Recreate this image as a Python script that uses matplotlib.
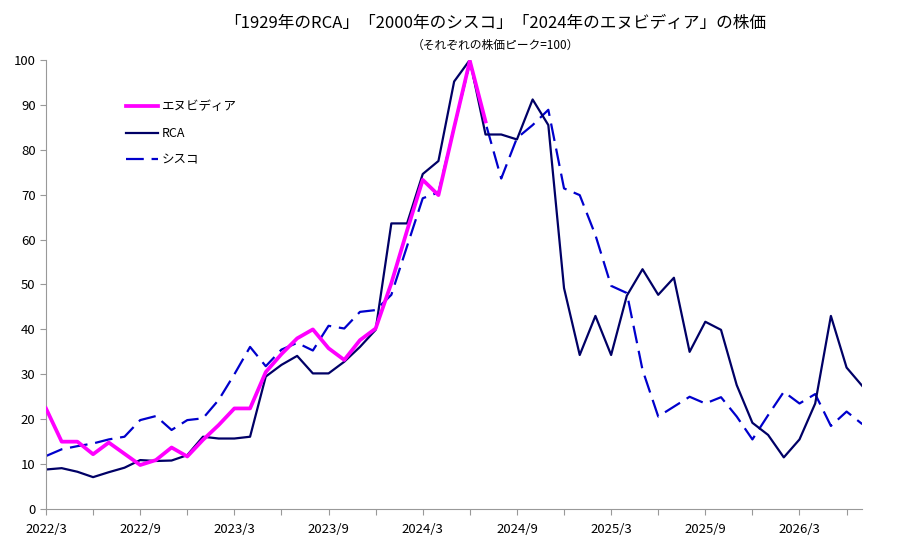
import matplotlib.pyplot as plt

plt.rcParams['font.family'] = ['Noto Sans CJK JP', 'DejaVu Sans']

# ── DATA (月次, 2022/3 起点, 各社の株価ピーク=100) ─────────────────
nvidia = [22.4, 15.0, 15.0, 12.2, 14.8, 12.3, 9.8, 10.9, 13.7, 11.7,
          15.4, 18.7, 22.4, 22.4, 30.5, 34.5, 38.0, 40.0, 35.8, 33.2,
          37.6, 40.2, 50.3, 62.0, 73.3, 69.9, 85.0, 99.8, 86.3]
rca = [8.8, 9.1, 8.3, 7.1, 8.2, 9.2, 10.9, 10.7, 10.8, 12.0,
       16.1, 15.7, 15.7, 16.1, 29.5, 32.1, 34.1, 30.2, 30.2, 32.8,
       36.1, 39.9, 63.6, 63.6, 74.6, 77.5, 95.2, 100.0, 83.4, 83.4,
       82.3, 91.2, 85.5, 49.2, 34.3, 43.0, 34.3, 47.5, 53.4, 47.7,
       51.5, 35.0, 41.7, 39.9, 27.6, 19.2, 16.5, 11.5, 15.5, 23.5,
       43.0, 31.5, 27.4]
cisco = [11.8, 13.3, 14.0, 14.6, 15.5, 16.1, 19.8, 20.7, 17.6, 19.8,
         20.2, 24.3, 30.0, 36.1, 31.8, 35.5, 37.0, 35.3, 40.8, 40.2,
         43.9, 44.3, 47.7, 58.5, 69.2, 70.5, 85.0, 99.3, 86.0, 73.6,
         82.6, 85.5, 88.9, 71.4, 69.9, 61.0, 49.7, 48.1, 31.0, 20.6,
         22.8, 25.0, 23.5, 24.9, 20.6, 15.5, 20.9, 26.1, 23.5, 25.6,
         18.5, 21.7, 18.9]
tick_labels = ['2022/3', '2022/9', '2023/3', '2023/9', '2024/3',
               '2024/9', '2025/3', '2025/9', '2026/3']
# ─────────────────────────────────────────────────────────────

fig = plt.figure(figsize=(9, 5.5), dpi=100)
ax = fig.add_axes([0.0511, 0.0745, 0.907, 0.8165])

ax.plot(range(len(nvidia)), nvidia, color='#FF00FF', lw=2.7, label='エヌビディア', zorder=3)
ax.plot(range(len(rca)), rca, color='#000066', lw=1.6, label='RCA', zorder=2)
ax.plot(range(len(cisco)), cisco, color='#0000CC', lw=1.6, ls=(0, (8, 3.5)), label='シスコ', zorder=1)

ax.set_xlim(0, len(rca) - 1)
ax.set_ylim(0, 100)
xt = list(range(0, len(rca), 3))
ax.set_xticks(xt)
ax.set_xticklabels([tick_labels[i // 2] if i % 2 == 0 else '' for i in range(len(xt))])
ax.set_yticks(range(0, 101, 10))

for s in ['top', 'right']:
    ax.spines[s].set_visible(False)
for s in ['left', 'bottom']:
    ax.spines[s].set_color('#999999')
    ax.spines[s].set_linewidth(0.8)
ax.tick_params(axis='both', colors='#999999', labelcolor='black', labelsize=9.5, length=4, width=0.8)
ax.tick_params(axis='x', pad=6)

fig.text(0.55, 0.957, '「1929年のRCA」「2000年のシスコ」「2024年のエヌビディア」の株価',
         ha='center', va='center', fontsize=12)
fig.text(0.55, 0.918, '（それぞれの株価ピーク=100）', ha='center', va='center', fontsize=8.5)

ax.legend(loc='upper left', bbox_to_anchor=(0.127, 0.838), bbox_transform=fig.transFigure,
          frameon=False, fontsize=9, handlelength=2.6, handletextpad=0.3, labelspacing=1.1)

fig.savefig('out.png', dpi=100)
